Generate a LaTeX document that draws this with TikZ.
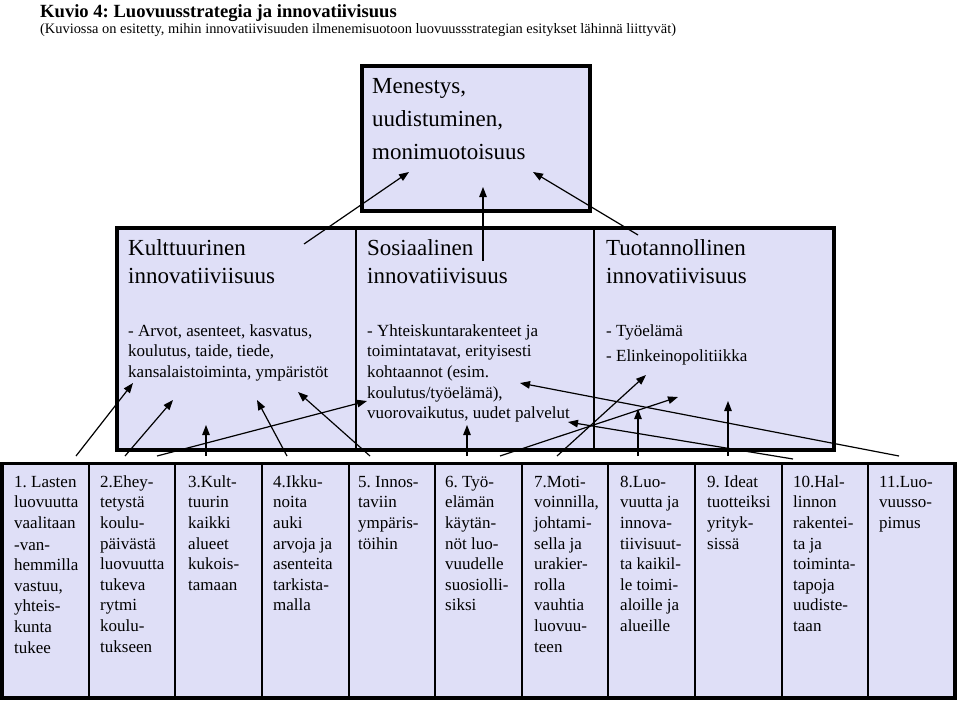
\documentclass[tikz,border=0pt]{standalone}
\usepackage{fontspec}
\setmainfont{Liberation Serif}
\usetikzlibrary{arrows.meta}
\definecolor{boxfill}{RGB}{223,223,247}
\frenchspacing
\newcommand\fbody{\fontsize{17}{20.6}\selectfont}
\newcommand\fhead{\fontsize{23}{28}\selectfont}
\newcommand\ftop{\fontsize{23}{33}\selectfont}
\newcommand\ftitle{\fontsize{18.6}{20}\selectfont\bfseries}
\newcommand\fsub{\fontsize{14.4}{16}\selectfont}
\tikzset{
  outer/.style={draw=black, line width=3.5pt},
  txt/.style={anchor=north west, inner sep=0, align=left, text=black},
  arr/.style={draw=black, line width=1.2pt, -{Triangle[length=10pt,width=7.5pt]}},
}
\begin{document}
\frenchspacing
\begin{tikzpicture}[x=1pt,y=-1pt]
\useasboundingbox (0,0) rectangle (960,701);
% title
\node[txt, anchor=base west, font=\ftitle] (title) at (40,18) {Kuvio 4: Luovuusstrategia ja innovatiivisuus};
\node[txt, anchor=base west, font=\fsub] (sub) at (40,34) {(Kuviossa on esitetty, mihin innovatiivisuuden ilmenemisuotoon luovuussstrategian esitykset lähinnä liittyvät)};
% top box
\node[draw=black, line width=4pt, fill=boxfill, minimum width=228pt, minimum height=145pt, inner sep=0] (topbox) at (476,138.5) {};
\node[txt, font=\ftop] (toptxt) at (372,69.9) {\strut Menestys,\\uudistuminen,\\monimuotoisuus};
% middle box columns
\foreach \i/\xl/\xr in {1/116.5/356, 2/356/594, 3/594/834} {
  \node[draw=black, line width=2pt, fill=boxfill, minimum width={\xr-\xl}, minimum height=222pt, inner sep=0] (mid\i) at ({(\xl+\xr)/2},338.5) {};
}
\draw[outer, line width=4pt] (116.5,227.5) rectangle (834,449.5);
\node[txt, font=\fhead] (h1) at (128,235.4) {\strut Kulttuurinen\\innovatiiviisuus};
\node[txt, font=\fhead] (h2) at (367,235.4) {\strut Sosiaalinen\\innovatiivisuus};
\node[txt, font=\fhead] (h3) at (606,235.4) {\strut Tuotannollinen\\innovatiivisuus};
\node[txt, font=\fbody] (b1) at (128,321.6) {\strut - Arvot, asenteet, kasvatus,\\koulutus, taide, tiede,\\kansalaistoiminta, ympäristöt};
\node[txt, font=\fbody] (b2) at (367,321.6) {\strut - Yhteiskuntarakenteet ja\\toimintatavat, erityisesti\\kohtaannot (esim.\\koulutus/työelämä),\\vuorovaikutus, uudet palvelut};
\node[txt, font=\fbody] (b3) at (606,321.6) {\strut - Työelämä\\[4.4pt]- Elinkeinopolitiikka};
% bottom row columns
\foreach \k in {0,...,10} {
  \pgfmathsetmacro\xl{2+86.64*\k}
  \node[draw=black, line width=2pt, fill=boxfill, minimum width=86.64pt, minimum height=234.5pt, inner sep=0] (c\k) at ({\xl+43.32},580.75) {};
}
\draw[outer] (2,463.5) rectangle (955,698);
\node[txt, font=\fbody] (t1) at (14,472.6) {\strut 1. Lasten\\luovuutta\\vaalitaan\\[1pt]-van-\\hemmilla\\vastuu,\\yhteis-\\kunta\\tukee};
\node[txt, font=\fbody] (t2) at (100,472.6) {\strut 2.Ehey-\\tetystä\\koulu-\\päivästä\\luovuutta\\tukeva\\rytmi\\koulu-\\tukseen};
\node[txt, font=\fbody] (t3) at (188,472.6) {\strut 3.Kult-\\tuurin\\kaikki\\alueet\\kukois-\\tamaan};
\node[txt, font=\fbody] (t4) at (273,472.6) {\strut 4.Ikku-\\noita\\auki\\arvoja ja\\asenteita\\tarkista-\\malla};
\node[txt, font=\fbody] (t5) at (358,472.6) {\strut 5. Innos-\\taviin\\ympäris-\\töihin};
\node[txt, font=\fbody] (t6) at (445,472.6) {\strut 6. Työ-\\elämän\\käytän-\\nöt luo-\\vuudelle\\suosiolli-\\siksi};
\node[txt, font=\fbody] (t7) at (534,472.6) {\strut 7.Moti-\\voinnilla,\\johtami-\\sella ja\\urakier-\\rolla\\vauhtia\\luovuu-\\teen};
\node[txt, font=\fbody] (t8) at (620,472.6) {\strut 8.Luo-\\vuutta ja\\innova-\\tiivisuut-\\ta kaikil-\\le toimi-\\aloille ja\\alueille};
\node[txt, font=\fbody] (t9) at (707,472.6) {\strut 9. Ideat\\tuotteiksi\\yrityk-\\sissä};
\node[txt, font=\fbody] (t10) at (793,472.6) {\strut 10.Hal-\\linnon\\rakentei-\\ta ja\\toiminta-\\tapoja\\uudiste-\\taan};
\node[txt, font=\fbody] (t11) at (879,472.6) {\strut 11.Luo-\\vuusso-\\pimus};
% arrow coordinates
\coordinate (ts1) at (304,244); \coordinate (te1) at (409,172);
\coordinate (ts2) at (483,261); \coordinate (te2) at (483,187);
\coordinate (ts3) at (638,235); \coordinate (te3) at (533,172);
\foreach \n/\sx/\sy/\ex/\ey in {
  A/76/456/133/383, B/125/456/173/400, C/157/456/367/401, D/206/456/206/425,
  E/287/456/257/400, F/370/456/298/392, G/467/456/467/425, H/500/456/678/397,
  I/557/456/646/375, J/638/456/638/409, K/728/456/728/401, L/793/459/568/422,
  M/899/456/520/383} {
  \coordinate (s\n) at (\sx,\sy);
  \coordinate (e\n) at (\ex,\ey);
}
\foreach \n in {1,2,3} { \draw[arr] (ts\n) -- (te\n); }
\foreach \n in {A,B,C,D,E,F,G,H,I,J,K,L,M} { \draw[arr] (s\n) -- (e\n); }
\end{tikzpicture}
\end{document}
